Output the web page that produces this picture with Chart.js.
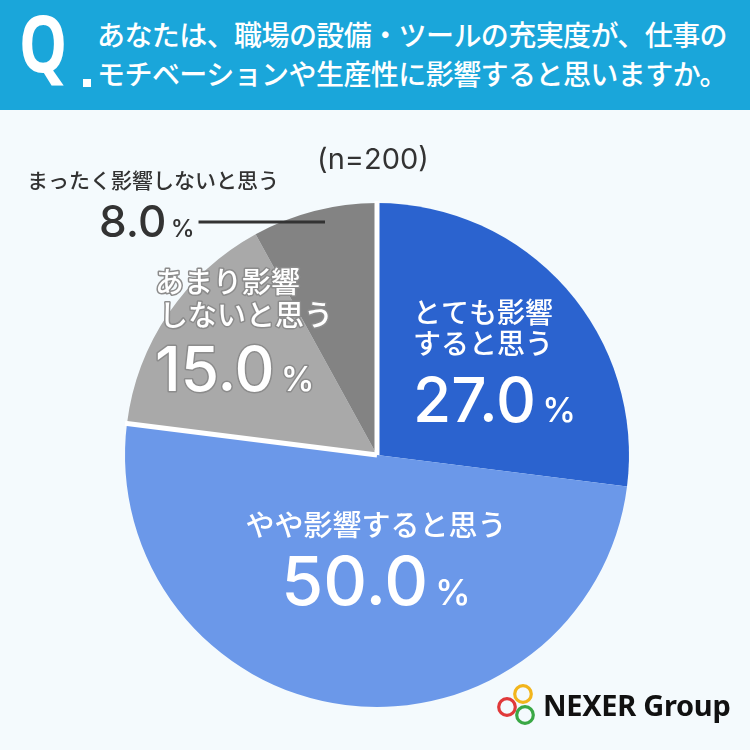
<!DOCTYPE html>
<html lang="ja">
<head>
<meta charset="utf-8">
<script src="https://cdn.jsdelivr.net/npm/chart.js@4.4.1/dist/chart.umd.min.js"></script>
<style>
html,body{margin:0;padding:0;background:#f4fafd;}
#wrap{position:relative;width:750px;height:750px;overflow:hidden;background:#f4fafd;font-family:"Noto Sans CJK JP","Noto Sans",sans-serif;}
#hdr{position:absolute;left:0;top:0;width:750px;height:110px;background:#1aa6da;}
#q{position:absolute;left:19px;top:-4px;font-family:"Noto Sans","Noto Sans CJK JP",sans-serif;font-weight:700;font-size:78px;color:#fff;transform:scaleX(0.78);transform-origin:left top;line-height:1.2;}
#qdot{position:absolute;left:83px;top:79px;width:8px;height:8px;background:#fff;}
.tl{position:absolute;left:97px;color:#fff;font-size:28px;font-weight:500;white-space:nowrap;line-height:1;}
#t1{top:20px;}
#t2{top:59px;}
#cwrap{position:absolute;left:0;top:0;width:750px;height:750px;}
#logo{position:absolute;left:543px;top:690px;font-family:"Noto Sans",sans-serif;font-weight:700;font-size:29px;color:#111;line-height:1;letter-spacing:-0.3px;}
</style>
</head>
<body>
<div id="wrap">
  <div id="cwrap"><canvas id="c"></canvas></div>
  <div id="hdr">
    <div id="q">Q</div><div id="qdot"></div>
    <div class="tl" id="t1">あなたは、職場の設備・ツールの充実度が、仕事の</div>
    <div class="tl" id="t2">モチベーションや生産性に影響すると思いますか。</div>
  </div>
  <div id="logo">NEXER Group</div>
</div>
<script>
// ---- data ----
const categories = ['とても影響すると思う', 'やや影響すると思う', 'あまり影響しないと思う', 'まったく影響しないと思う'];
const values = [27.0, 50.0, 15.0, 8.0];
const labelLines = [['とても影響', 'すると思う'], ['やや影響すると思う'], ['あまり影響', 'しないと思う'], ['まったく影響しないと思う']];
const sampleNote = '(n=200)';

// ---- styles ----
const sliceColors = ['#2b63cf', '#6b98e9', '#a9a9a9', '#838383'];
const JP = '"Noto Sans CJK JP", "Noto Sans", sans-serif';
const NUM = 'Inter, "Noto Sans", sans-serif';

// label layout per slice
const labelLayout = [
  {x: 413, y: 312, align: 'left', lineGap: 31, fs: 28, numY: 400, numFs: 62, pctFs: 34, color: '#fff'},
  {x: 376, y: 525, align: 'center', lineGap: 31, fs: 29, numY: 581, numFs: 68, pctFs: 36, color: '#fff'},
  {x: 155, y: 282, align: 'left', lineGap: 33, fs: 29, numY: 369, numFs: 62, pctFs: 34, color: '#fff', stroke: '#8c8c8c'},
  {x: 27, y: 180, align: 'left', lineGap: 0, fs: 21, numX: 99, numY: 221, numFs: 44, pctFs: 24, color: '#333'}
];

function drawPct(ctx, value, L) {
  const num = value.toFixed(1);
  ctx.font = '500 ' + L.numFs + 'px ' + NUM;
  const w1 = ctx.measureText(num).width;
  ctx.font = '500 ' + L.pctFs + 'px ' + NUM;
  const w2 = ctx.measureText('%').width;
  const gap = L.numFs * 0.1;
  let x;
  if (L.align === 'center') x = L.x - (w1 + gap + w2) / 2;
  else x = (L.numX !== undefined ? L.numX : L.x);
  const base = L.numY + L.numFs * 0.36;
  ctx.textAlign = 'left';
  ctx.textBaseline = 'alphabetic';
  ctx.font = '500 ' + L.numFs + 'px ' + NUM;
  if (L.stroke) { ctx.lineWidth = 3; ctx.strokeStyle = L.stroke; ctx.lineJoin = 'round'; ctx.strokeText(num, x, base); }
  ctx.fillStyle = L.color;
  ctx.fillText(num, x, base);
  ctx.font = '500 ' + L.pctFs + 'px ' + NUM;
  if (L.stroke) ctx.strokeText('%', x + w1 + gap, base);
  ctx.fillText('%', x + w1 + gap, base);
  return x + w1 + gap + w2;
}

const decorPlugin = {
  id: 'decor',
  afterDatasetsDraw(chart) {
    const ctx = chart.ctx;
    const meta = chart.getDatasetMeta(0);
    ctx.save();
    ctx.strokeStyle = '#ffffff';
    ctx.lineWidth = 5;
    ctx.lineCap = 'butt';
    [0, 2].forEach(i => {
      const a = meta.data[i];
      const ang = a.startAngle;
      ctx.beginPath();
      ctx.moveTo(a.x, a.y);
      ctx.lineTo(a.x + Math.cos(ang) * (a.outerRadius + 2), a.y + Math.sin(ang) * (a.outerRadius + 2));
      ctx.stroke();
    });
    ctx.restore();
  },
  afterDraw(chart) {
    const ctx = chart.ctx;
    ctx.save();
    ctx.font = '400 29px ' + NUM;
    ctx.fillStyle = '#333';
    ctx.textAlign = 'center';
    ctx.textBaseline = 'middle';
    ctx.fillText(sampleNote, 373, 160);

    values.forEach((v, i) => {
      const L = labelLayout[i];
      ctx.font = '500 ' + L.fs + 'px ' + JP;
      ctx.textAlign = L.align;
      ctx.textBaseline = 'middle';
      labelLines[i].forEach((line, k) => {
        const y = L.y + k * L.lineGap;
        const x = L.x + (i === 2 && k === 1 ? 4 : 0);
        if (L.stroke) { ctx.lineWidth = 3; ctx.strokeStyle = L.stroke; ctx.lineJoin = 'round'; ctx.strokeText(line, x, y); }
        ctx.fillStyle = L.color;
        ctx.fillText(line, x, y);
      });
      const endX = drawPct(ctx, v, L);
      if (i === 3) {
        ctx.strokeStyle = '#333';
        ctx.lineWidth = 3;
        ctx.beginPath();
        ctx.moveTo(endX + 4, 222);
        ctx.lineTo(325, 222);
        ctx.stroke();
      }
    });

    const rings = [[523, 694, '#f2b51c'], [507, 707, '#e0393a'], [525, 715, '#3aa845']];
    ctx.lineWidth = 3.2;
    rings.forEach(r => {
      ctx.strokeStyle = r[2];
      ctx.beginPath();
      ctx.arc(r[0], r[1], 8.3, 0, Math.PI * 2);
      ctx.stroke();
    });
    ctx.restore();
  }
};

function fitTitle() {
  ['t1', 't2'].forEach(id => {
    const el = document.getElementById(id);
    el.style.letterSpacing = '0px';
    const w = el.getBoundingClientRect().width;
    const n = el.textContent.length;
    el.style.letterSpacing = ((630 - w) / n) + 'px';
  });
}

function build() {
  fitTitle();
  new Chart(document.getElementById('c'), {
    type: 'pie',
    data: {
      labels: categories,
      datasets: [{
        data: values,
        backgroundColor: sliceColors,
        borderWidth: 0,
        hoverOffset: 0
      }]
    },
    options: {
      responsive: true,
      maintainAspectRatio: false,
      animation: false,
      layout: {padding: {left: 125, right: 121, top: 203, bottom: 43}},
      plugins: {legend: {display: false}, tooltip: {enabled: false}}
    },
    plugins: [decorPlugin]
  });
}

Promise.all([
  document.fonts.load('500 28px "Noto Sans CJK JP"', 'あ影'),
  document.fonts.load('500 60px Inter', '0123'),
  document.fonts.load('400 29px Inter', '(n=200)'),
  document.fonts.load('700 30px "Noto Sans"', 'NEXER')
]).then(build, build);
</script>
</body>
</html>
